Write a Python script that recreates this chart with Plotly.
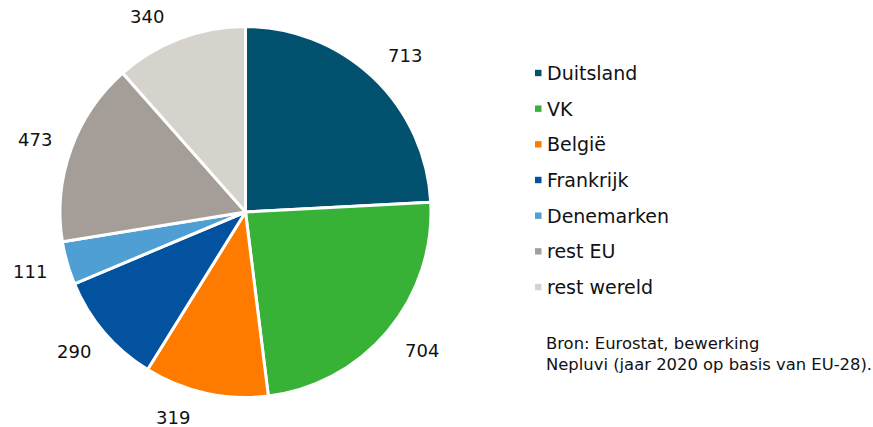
import math
import plotly.graph_objects as go

categories = ["Duitsland", "VK", "België", "Frankrijk", "Denemarken", "rest EU", "rest wereld"]
values = [713, 704, 319, 290, 111, 473, 340]
colors = ["#02526f", "#38b236", "#ff7b00", "#02529f", "#4f9fd5", "#a59d98", "#d6d3cc"]
source_lines = ["Bron: Eurostat, bewerking", "Nepluvi (jaar 2020 op basis van EU-28)."]

W, H = 873, 427
cx, cy, R = 245.5, 212, 185.5
FONT = "DejaVu Sans"

fig = go.Figure(go.Pie(
    labels=categories, values=values, sort=False, direction="clockwise", rotation=0,
    marker=dict(colors=colors, line=dict(color="white", width=3)),
    textinfo="none", showlegend=False, hoverinfo="label+value",
    domain=dict(x=[(cx - R) / W, (cx + R) / W], y=[(H - cy - R) / H, (H - cy + R) / H]),
))

shapes, annots = [], []

# value labels outside the slices: y along the mid-angle at R + distance (kept inside the
# canvas), x taken on the label circle at that y
total = sum(values)
cum = 0
rl = R + 30
for v in values:
    mid = (cum + v / 2) / total * 2 * math.pi
    cum += v
    s, c = math.sin(mid), math.cos(mid)
    py = min(max(cy - rl * c, 16.5), 417.5)
    dx = math.sqrt(max(rl ** 2 - (py - cy) ** 2, 0))
    right = s >= 0
    px = cx + dx if right else cx - dx
    annots.append(dict(text=str(v), x=(px - 8 if right else px + 11) / W, y=(H - py) / H,
                       xref="paper", yref="paper", xanchor="left" if right else "right",
                       yanchor="middle", showarrow=False,
                       font=dict(family=FONT, size=18, color="#111111")))

# legend
ly0, dy = 73, 35.67
for i, (name, col) in enumerate(zip(categories, colors)):
    y = ly0 + i * dy
    shapes.append(dict(type="rect", xref="paper", yref="paper",
                       x0=535 / W, x1=541.5 / W, y0=(H - y - 3.2) / H, y1=(H - y + 3.2) / H,
                       fillcolor=col, line=dict(width=0)))
    annots.append(dict(text=name, x=545 / W, y=(H - y) / H, xref="paper", yref="paper",
                       xanchor="left", yanchor="middle", showarrow=False,
                       font=dict(family=FONT, size=19, color="#111111")))

# source
for j, s in enumerate(source_lines):
    annots.append(dict(text=s, x=544 / W, y=(H - (343 + j * 21.5)) / H, xref="paper", yref="paper",
                       xanchor="left", yanchor="middle", showarrow=False,
                       font=dict(family=FONT, size=16.4, color="#111111")))

fig.update_layout(width=W, height=H, margin=dict(l=0, r=0, t=0, b=0),
                  paper_bgcolor="white", plot_bgcolor="white",
                  shapes=shapes, annotations=annots)
fig.write_html("out.html", config={"displayModeBar": False},
               post_script="document.body.style.margin='0px';")
